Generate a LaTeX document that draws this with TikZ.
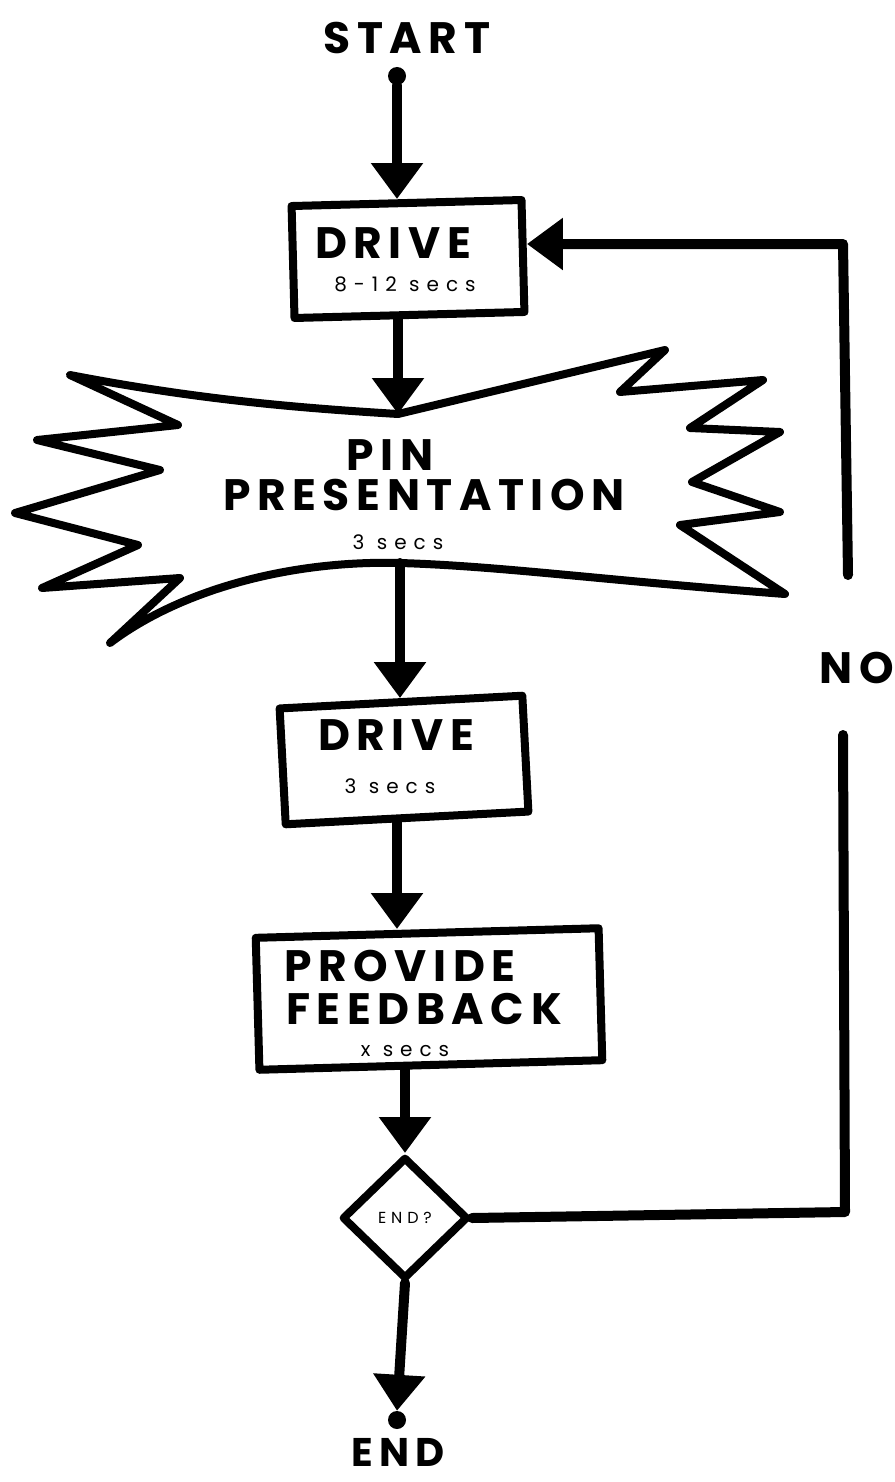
\documentclass[tikz,border=0pt]{standalone}
\usepackage{fontspec}
\setmainfont{Poppins}
\usetikzlibrary{arrows.meta,shapes.geometric}

\begin{document}
\begin{tikzpicture}[x=1pt,y=1pt,yscale=-1,line join=round,line cap=round,
  bigtxt/.style={inner sep=0pt,font=\fontsize{44}{46}\selectfont\bfseries\addfontfeatures{LetterSpace=15}},
  smalltxt/.style={inner sep=0pt,font=\fontsize{20}{22}\selectfont\addfontfeatures{LetterSpace=35}},
  flowbox/.style={draw,line width=8pt,inner sep=0pt},
  flow/.style={line width=10pt,-{Triangle[width=50pt,length=36pt]}},
  burst/.style={line width=8pt},
  dot/.style={circle,fill,inner sep=0pt,minimum size=18pt}]
\path[use as bounding box] (0,0) rectangle (894,1482);

% Text Node
\node[bigtxt] (start) at (407,38) {START};
\node[dot] (startdot) at (397,76) {};

%Shape: Box
\node[flowbox,minimum width=230pt,minimum height=112pt,rotate=1.5] (drive1) at (408,259) {};
% Text Node
\node[bigtxt] (drive1txt) at (393,243) {DRIVE};
\node[smalltxt] (drive1sec) at (405,284) {8-12 secs};

%Shape: Starburst
\draw[burst] (70,375) .. controls (200,400) and (300,408) .. (398,414) -- (665,350) -- (620,392)
  -- (763,380) -- (690,428) -- (780,432) -- (692,482) -- (780,512) -- (680,525) -- (785,594)
  .. controls (600,580) and (500,566) .. (400,563) .. controls (290,560) and (180,590) .. (110,643)
  -- (180,578) -- (42,588) -- (138,545) -- (15,513) -- (160,470) -- (37,440) -- (178,425) -- cycle;
\coordinate (pintop) at (398,414);
\coordinate (pinbot) at (400,563);
% Text Node
\node[bigtxt] (pintxt) at (390,455) {PIN};
\node[bigtxt] (prestxt) at (424,495) {PRESENTATION};
\node[smalltxt] (pinsec) at (398,542) {3 secs};

%Shape: Box
\node[flowbox,minimum width=243pt,minimum height=116pt,rotate=3] (drive2) at (404,760) {};
% Text Node
\node[bigtxt] (drive2txt) at (396,735) {DRIVE};
\node[smalltxt] (drive2sec) at (390,786) {3 secs};

%Shape: Box
\node[flowbox,minimum width=343pt,minimum height=132pt,rotate=1.6] (feedback) at (429,999) {};
% Text Node
\node[bigtxt] (providetxt) at (400,966) {PROVIDE};
\node[bigtxt] (feedbacktxt) at (424,1009) {FEEDBACK};
\node[smalltxt] (feedbacksec) at (405,1051) {x secs};

%Shape: Diamond
\node[diamond,flowbox,minimum width=126pt,minimum height=122pt,
  font=\fontsize{16}{18}\selectfont\addfontfeatures{LetterSpace=30}] (check) at (405,1218) {END?};

\node[dot] (enddot) at (397,1420) {};
% Text Node
\node[bigtxt,font=\fontsize{40}{42}\selectfont\bfseries\addfontfeatures{LetterSpace=15},anchor=base] (endtxt) at (398,1466) {END};
\node[bigtxt] (notxt) at (857,668) {NO};

%Loop
\coordinate (loopbot) at (845,1212);
\coordinate (nobot) at (843,735);
\coordinate (notop) at (848,575);
\coordinate (looptop) at (843,244);

% Arrows
\draw[flow] (startdot) -- (startdot |- drive1.north);
\draw[flow] (drive1.south -| pintop) -- (pintop);
\draw[flow] (pinbot) -- (pinbot |- drive2.north);
\draw[flow] (drive2.south -| 397,0) -- (397,0 |- feedback.north);
\draw[flow] (feedback.south -| check) -- (check.north);
\draw[flow] (check.south) -- (enddot.north);
\draw[line width=10pt] (check.east) -- (loopbot) -- (nobot);
\draw[flow] (notop) -- (looptop) -- (looptop -| drive1.east);
\end{tikzpicture}
\end{document}
